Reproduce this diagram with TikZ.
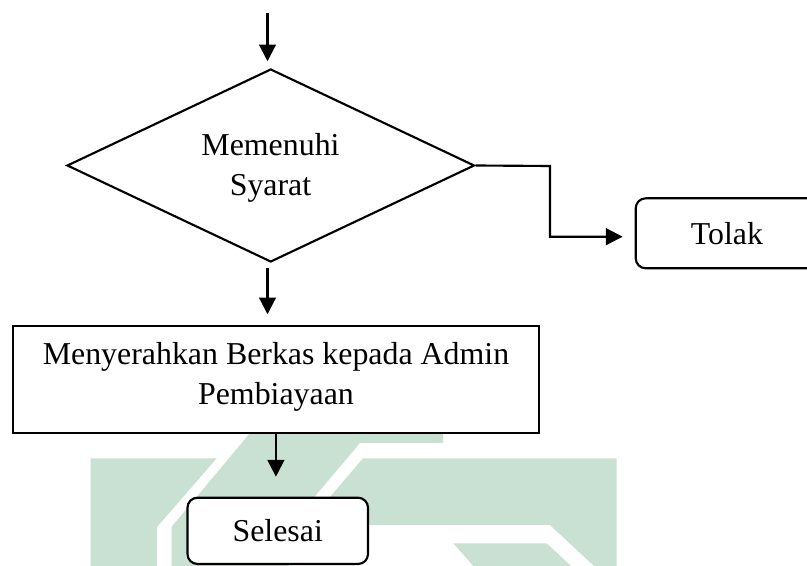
\documentclass[tikz,border=0pt]{standalone}
\usepackage{fontspec}
\setmainfont{Liberation Serif}
\usetikzlibrary{shapes.geometric,arrows.meta,calc}
\definecolor{wm}{RGB}{200,225,210}
\tikzset{
  lw/.style={line width=1.6pt},
  txt/.style={font=\fontsize{23.9pt}{30pt}\selectfont, align=center},
  procbox/.style={lw, draw, fill=white, rectangle, inner sep=0pt, txt},
  termbox/.style={lw, draw, fill=white, rectangle, rounded corners=7.5pt, inner sep=0pt, txt},
  decbox/.style={lw, draw, fill=white, diamond, inner sep=0pt},
  arr/.style={lw, -{Triangle[length=12.5pt,width=12.5pt]}},
  wmshape/.style={fill=wm, draw=none}
}
\begin{document}
\begin{tikzpicture}[x=0.75pt,y=-0.75pt]
\useasboundingbox (0,0) rectangle (807,566);
\clip (0,0) rectangle (807,566);
% watermark
\fill[wmshape] (90.6,458.3) -- (216.7,458.3) -- (157,527) -- (157,566) -- (90.6,566) -- cycle;
\fill[wmshape] (250,433) -- (443,433) -- (443,443) -- (360,443) -- (289,527) -- (289,566) -- (171.7,566) -- (171.7,526.7) -- cycle;
\fill[wmshape] (363,458.3) -- (616.7,458.3) -- (616.7,566) -- (594,566) -- (550,525) -- (306,525) -- cycle;
\fill[wmshape] (453.3,543.3) -- (546.7,543.3) -- (571,566) -- (473.3,566) -- cycle;
% nodes
\coordinate (in) at (267.5,13);
\node[decbox, minimum width=305.6pt, minimum height=144.75pt] (dec) at (270.75,165.5) {};
\node[txt] (dectext) at (270.5,168) {Memenuhi\\Syarat};
\node[termbox, minimum width=136.7pt, minimum height=52.5pt] (tolak) at (726.85,233.3) {Tolak};
\node[procbox, minimum width=394.5pt, minimum height=80pt] (rect) at (275.9,379.35) {};
\node[txt] (recttext) at (276,376.7) {Menyerahkan Berkas kepada Admin\\Pembiayaan};
\node[termbox, minimum width=135.4pt, minimum height=49.7pt] (sel) at (277.75,530.85) {Selesai};
\coordinate (bend) at (550,166);
% connectors
\draw[arr, shorten >=5pt] (in) -- (in |- dec.north);
\draw[arr, shorten <=4pt, shorten >=8pt] (in |- dec.south) -- (in |- rect.north);
\draw[arr, shorten >=15pt] (rect.south) -- (rect.south |- sel.north);
\draw[arr, shorten >=9pt] (dec.east) -- (bend) |- ($(tolak.west)+(0,3.4)$);
\end{tikzpicture}
\end{document}
